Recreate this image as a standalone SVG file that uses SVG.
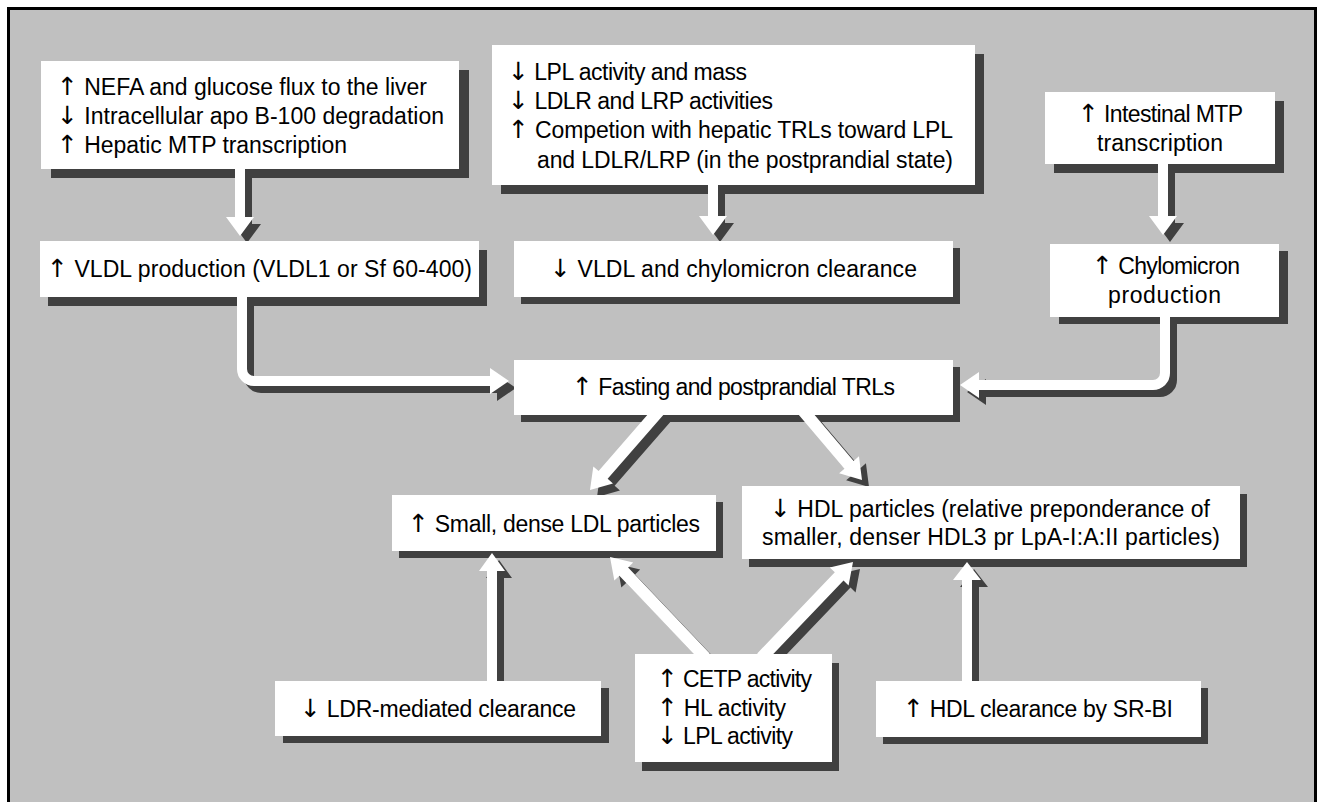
<svg xmlns="http://www.w3.org/2000/svg" xmlns:xlink="http://www.w3.org/1999/xlink" width="1317" height="802" viewBox="0 0 1317 802">
<style>
.box{fill:#ffffff}
.bsh{fill:#404040}
.sh{fill:#404040;stroke:#404040}
.wh{fill:#ffffff;stroke:#ffffff}
text{font-family:"Liberation Sans",Arial,sans-serif;font-size:23px;fill:#000}
.ar{font-family:"DejaVu Sans",sans-serif;font-size:25px}
</style>
<defs>
<polygon id="a1" stroke="none" points="235,169 245,169 245,217 254,217 240,236 226,217 235,217"/>
<polygon id="a2" stroke="none" points="708,185 718,185 718,216 727,216 713,235 699,216 708,216"/>
<polygon id="a3" stroke="none" points="1158,164 1168,164 1168,216 1177,216 1163,235 1149,216 1158,216"/>
<g id="a4"><path fill="none" stroke-width="10" d="M242,296 V369 A12,12 0 0 0 254,381 H492"/><polygon stroke="none" points="490,368 490,394 509,381"/></g>
<g id="a5"><path fill="none" stroke-width="10" d="M1165,316 V373 A12,12 0 0 1 1153,385 H977"/><polygon stroke="none" points="979,372 979,398 960,385"/></g>
<polygon id="a6" stroke="none" points="655.75,405.29 598.60,470.97 593.32,466.38 590,490 612.94,483.44 607.66,478.85 664.81,413.17"/>
<polygon id="a7" stroke="none" points="797.19,413.08 844.47,468.66 839.14,473.19 862,480 858.94,456.35 853.61,460.88 806.33,405.30"/>
<polygon id="a8" stroke="none" points="487,681 497,681 497,571 505,571 492,553 479,571 487,571"/>
<polygon id="a9" stroke="none" points="709.79,653.50 628.11,567.38 633.19,562.57 610,557 614.33,580.45 619.41,575.64 701.09,661.76"/>
<polygon id="a10" stroke="none" points="765.88,661.76 843.51,580.60 848.57,585.44 853,562 829.77,567.46 834.83,572.30 757.20,653.46"/>
<polygon id="a11" stroke="none" points="962,681 972,681 972,580 981,580 967,562 953,580 962,580"/>
</defs>
<rect x="0" y="0" width="1317" height="802" fill="#ffffff"/>
<rect id="frame" x="8.5" y="8.5" width="1307" height="800" fill="#c0c0c0" stroke="#000000" stroke-width="3"/>
<g id="node-shadows">
<rect class="bsh" x="51" y="70" width="418" height="108"/>
<rect class="bsh" x="48" y="250" width="439" height="56"/>
<rect class="bsh" x="501" y="54" width="483" height="140"/>
<rect class="bsh" x="521" y="248" width="439" height="56"/>
<rect class="bsh" x="1054" y="101" width="230" height="72"/>
<rect class="bsh" x="1059" y="251" width="229" height="73"/>
<rect class="bsh" x="521" y="367" width="439" height="55"/>
<rect class="bsh" x="399" y="502" width="324" height="56"/>
<rect class="bsh" x="749" y="494" width="498" height="73"/>
<rect class="bsh" x="283" y="688" width="326" height="55"/>
<rect class="bsh" x="642" y="663" width="197" height="108"/>
<rect class="bsh" x="883" y="688" width="325" height="56"/>
</g>
<g id="connectors">
<g id="connector-shadows" transform="translate(7,7)">
<use xlink:href="#a1" class="sh"/><use xlink:href="#a2" class="sh"/><use xlink:href="#a3" class="sh"/>
<use xlink:href="#a4" class="sh"/><use xlink:href="#a5" class="sh"/><use xlink:href="#a6" class="sh"/>
<use xlink:href="#a7" class="sh"/><use xlink:href="#a8" class="sh"/><use xlink:href="#a9" class="sh"/>
<use xlink:href="#a10" class="sh"/><use xlink:href="#a11" class="sh"/>
</g>
<use xlink:href="#a1" class="wh"/><use xlink:href="#a2" class="wh"/><use xlink:href="#a3" class="wh"/>
<use xlink:href="#a4" class="wh"/><use xlink:href="#a5" class="wh"/><use xlink:href="#a6" class="wh"/>
<use xlink:href="#a7" class="wh"/><use xlink:href="#a8" class="wh"/><use xlink:href="#a9" class="wh"/>
<use xlink:href="#a10" class="wh"/><use xlink:href="#a11" class="wh"/>
</g>
<g id="node-hepatic-causes">
<rect class="box" x="41" y="61" width="418" height="108"/>
<text x="57" y="95" textLength="370"><tspan class="ar">↑</tspan> NEFA and glucose flux to the liver</text>
<text x="57" y="124" textLength="387"><tspan class="ar">↓</tspan> Intracellular apo B-100 degradation</text>
<text x="57" y="153" textLength="290"><tspan class="ar">↑</tspan> Hepatic MTP transcription</text>
</g>
<g id="node-vldl-production">
<rect class="box" x="40" y="241" width="439" height="56"/>
<text x="47" y="277" textLength="425"><tspan class="ar">↑</tspan> VLDL production (VLDL1 or Sf 60-400)</text>
</g>
<g id="node-clearance-causes">
<rect class="box" x="492" y="45" width="483" height="140"/>
<text x="508" y="80" textLength="239"><tspan class="ar">↓</tspan> LPL activity and mass</text>
<text x="508" y="109" textLength="265"><tspan class="ar">↓</tspan> LDLR and LRP activities</text>
<text x="508" y="138" textLength="445"><tspan class="ar">↑</tspan> Competion with hepatic TRLs toward LPL</text>
<text x="537" y="168" textLength="416">and LDLR/LRP (in the postprandial state)</text>
</g>
<g id="node-vldl-clearance">
<rect class="box" x="514" y="241" width="439" height="56"/>
<text x="550" y="277" textLength="367"><tspan class="ar">↓</tspan> VLDL and chylomicron clearance</text>
</g>
<g id="node-intestinal-mtp">
<rect class="box" x="1045" y="92" width="230" height="72"/>
<text x="1078" y="122" textLength="165"><tspan class="ar">↑</tspan> Intestinal MTP</text>
<text x="1097" y="151" textLength="126">transcription</text>
</g>
<g id="node-chylomicron">
<rect class="box" x="1050" y="244" width="229" height="73"/>
<text x="1092" y="274" textLength="148"><tspan class="ar">↑</tspan> Chylomicron</text>
<text x="1108" y="303" textLength="113">production</text>
</g>
<g id="node-trls">
<rect class="box" x="514" y="360" width="439" height="55"/>
<text x="572" y="395" textLength="323"><tspan class="ar">↑</tspan> Fasting and postprandial TRLs</text>
</g>
<g id="node-sdldl">
<rect class="box" x="392" y="495" width="324" height="56"/>
<text x="408" y="532" textLength="292"><tspan class="ar">↑</tspan> Small, dense LDL particles</text>
</g>
<g id="node-hdl">
<rect class="box" x="742" y="486" width="498" height="73"/>
<text x="770" y="517" textLength="440"><tspan class="ar">↓</tspan> HDL particles (relative preponderance of</text>
<text x="762" y="545" textLength="458">smaller, denser HDL3 pr LpA-I:A:II particles)</text>
</g>
<g id="node-ldr">
<rect class="box" x="275" y="681" width="326" height="55"/>
<text x="300" y="717" textLength="276"><tspan class="ar">↓</tspan> LDR-mediated clearance</text>
</g>
<g id="node-cetp">
<rect class="box" x="635" y="654" width="197" height="108"/>
<text x="657" y="687" textLength="155"><tspan class="ar">↑</tspan> CETP activity</text>
<text x="657" y="716" textLength="129"><tspan class="ar">↑</tspan> HL activity</text>
<text x="657" y="744" textLength="136"><tspan class="ar">↓</tspan> LPL activity</text>
</g>
<g id="node-srbi">
<rect class="box" x="876" y="681" width="325" height="56"/>
<text x="903" y="717" textLength="270"><tspan class="ar">↑</tspan> HDL clearance by SR-BI</text>
</g>
</svg>
